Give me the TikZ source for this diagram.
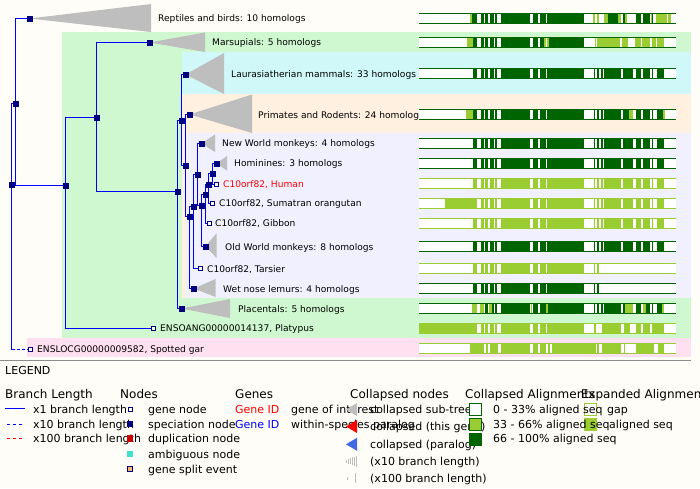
\documentclass[tikz,border=0pt]{standalone}
\usepackage{fontspec}
\setmainfont{DejaVu Sans}
\definecolor{bgc}{RGB}{254,253,247}
\definecolor{bandgreen}{RGB}{208,248,208}
\definecolor{bandcyan}{RGB}{208,248,248}
\definecolor{bandpeach}{RGB}{255,240,224}
\definecolor{bandlav}{RGB}{240,240,255}
\definecolor{bandpink}{RGB}{255,224,240}
\definecolor{navyc}{RGB}{0,0,128}
\definecolor{brc}{RGB}{0,0,255}
\definecolor{trig}{RGB}{190,190,190}
\definecolor{dkg}{RGB}{0,100,0}
\definecolor{ygc}{RGB}{154,205,50}
\definecolor{dupc}{RGB}{204,0,0}
\definecolor{ambc}{RGB}{64,224,208}
\definecolor{splitc}{RGB}{240,180,120}
\definecolor{parac}{RGB}{65,105,225}
\definecolor{rulec}{RGB}{140,140,140}
\pgfdeclarelayer{bands}
\pgfdeclarelayer{edges}
\pgfsetlayers{bands,edges,main}
\newcommand\alseg[3]{\fill[#3] (#1,-5.5) rectangle (#2,5.5);}
\newcommand\alpat[1]{\alseg{189}{201}{#1}\alseg{213}{221}{#1}\alseg{226}{233}{#1}\alseg{240}{251}{#1}\alseg{256}{262}{#1}\alseg{273}{360}{#1}\alseg{368}{383}{#1}\alseg{390}{407}{#1}\alseg{410}{522}{#1}\alseg{552}{556}{#1}\alseg{561}{566}{#1}\alseg{573}{579}{#1}\alseg{582}{633}{#1}\alseg{639}{668}{#1}\alseg{677}{693}{#1}\alseg{699}{719}{#1}\alseg{727}{729}{#1}\alseg{741}{762}{#1}}
\newcommand\alnbar[3]{%
 \begin{scope}[shift={(410,#1)}, x=0.333333pt]
 \fill[white] (27,-5.5) rectangle (797,5.5);
 #3
 \draw[#2, line width=1pt] (27,-5) -- (797,-5) (27,5) -- (797,5);
 \end{scope}}
\tikzset{
 spec/.style={rectangle, fill=navyc, minimum size=6pt, inner sep=0pt},
 genesq/.style={rectangle, draw=navyc, fill=white, line width=1pt, minimum size=4pt, inner sep=0pt},
 br/.style={draw=brc, line width=1pt},
 lbl/.style={anchor=west, inner sep=0pt, font=\fontsize{9.1}{10}\selectfont, text height=6.6pt, text depth=0pt},
 lgd/.style={anchor=west, inner sep=0pt, font=\fontsize{11}{13}\selectfont, text height=8pt, text depth=0pt},
 lgh/.style={anchor=west, inner sep=0pt, font=\fontsize{12}{14}\selectfont, text height=8.8pt, text depth=0pt},
 lsq/.style={rectangle, minimum size=12pt, inner sep=0pt, line width=1pt},
}
\begin{document}
\begin{tikzpicture}[x=1pt,y=-1pt]
\useasboundingbox (0,0) rectangle (700,488);
\begin{pgfonlayer}{bands}
 \fill[bgc] (0,0) rectangle (700,488);
 \fill[bandgreen] (62,32) rectangle (691,338);
 \fill[bandcyan] (182,52) rectangle (691,94);
 \fill[bandpeach] (182,94) rectangle (691,298);
 \fill[bandlav] (186,133) rectangle (691,298);
 \fill[bandpink] (27,338) rectangle (691,357);
 \draw[rulec, line width=1pt] (0,360.5) -- (691,360.5);
\end{pgfonlayer}

% internal nodes
\node[spec] (R) at (11.5,184.5) {};
\node[spec] (A) at (15.5,103.5) {};
\node[spec] (B) at (65.5,185.5) {};
\node[spec] (C) at (96.5,117.5) {};
\node[spec] (D) at (177.5,191.5) {};
\node[spec] (E) at (181.5,120.5) {};
\node[spec] (F) at (185.5,165.5) {};
\node[spec] (H) at (189.5,216.5) {};
\node[spec] (I) at (193.5,206.5) {};
\node[spec] (G) at (197.5,174.5) {};
\node[spec] (J) at (201.5,205.5) {};
\node[spec] (K) at (205.5,194.5) {};
\node[spec] (L) at (208.5,184.5) {};
\node[spec] (M) at (212.5,173.5) {};
% collapsed nodes
\node[spec] (rep) at (29.5,18.5) {};
\node[spec] (mar) at (149.5,42.5) {};
\node[spec] (lau) at (185.5,74.5) {};
\node[spec] (pri) at (189.5,114.5) {};
\node[spec] (nwm) at (201.5,143.5) {};
\node[spec] (hom) at (216.5,163.5) {};
\node[spec] (owm) at (205.5,246.5) {};
\node[spec] (lem) at (193.5,288.5) {};
\node[spec] (pla) at (181.5,308.5) {};
% genes
\node[genesq] (hum) at (216.5,184.5) {};
\node[genesq] (ora) at (212.5,203.5) {};
\node[genesq] (gib) at (209.5,223.5) {};
\node[genesq] (tar) at (200.5,268.5) {};
\node[genesq] (ptp) at (153.5,328.5) {};
\node[genesq] (gar) at (30.5,349.5) {};

\begin{pgfonlayer}{edges}
 \draw[br] (R.center) |- (A.center);
 \draw[br] (R.center) -- (R.center |- gar.center);
 \draw[br, dash pattern=on 3pt off 2pt] (R.center |- gar.center) -- (gar);
 \draw[br] (A.center) |- (rep.center);
 \draw[br] (A.center) |- (B.center);
 \draw[br] (B.center) |- (C.center);
 \draw[br] (B.center) |- (ptp);
 \draw[br] (C.center) |- (mar.center);
 \draw[br] (C.center) |- (D.center);
 \draw[br] (D.center) |- (E.center);
 \draw[br] (D.center) |- (pla.center);
 \draw[br] (E.center) |- (lau.center);
 \draw[br] (E.center) |- (F.center);
 \draw[br] (F.center) |- (pri.center);
 \draw[br] (F.center) |- (H.center);
 \draw[br] (H.center) |- (I.center);
 \draw[br] (H.center) |- (lem.center);
 \draw[br] (I.center) |- (G.center);
 \draw[br] (I.center) |- (tar);
 \draw[br] (G.center) |- (nwm.center);
 \draw[br] (G.center) |- (J.center);
 \draw[br] (J.center) |- (K.center);
 \draw[br] (J.center) |- (owm.center);
 \draw[br] (K.center) |- (L.center);
 \draw[br] (K.center) |- (gib);
 \draw[br] (L.center) |- (M.center);
 \draw[br] (L.center) |- (ora);
 \draw[br] (M.center) |- (hom.center);
 \draw[br] (M.center) |- (hum);
 % collapsed triangles
 \fill[trig] (rep.center) -- (151,4) -- (151,32) -- cycle;
 \fill[trig] (mar.center) -- (205,32.5) -- (205,52) -- cycle;
 \fill[trig] (lau.center) -- (224,53) -- (224,94) -- cycle;
 \fill[trig] (pri.center) -- (252,94.5) -- (252,133) -- cycle;
 \fill[trig] (nwm.center) -- (215,134.5) -- (215,152) -- cycle;
 \fill[trig] (hom.center) -- (227,156) -- (227,170.5) -- cycle;
 \fill[trig] (owm.center) -- (216.7,233) -- (216.7,258) -- cycle;
 \fill[trig] (lem.center) -- (215.7,279) -- (215.7,297) -- cycle;
 \fill[trig] (pla.center) -- (230,299) -- (230,318) -- cycle;
\end{pgfonlayer}

% labels
\node[lbl] (trep) at (158,18.5) {Reptiles and birds: 10 homologs};
\node[lbl] (tmar) at (212,42.5) {Marsupials: 5 homologs};
\node[lbl] (tlau) at (231,74) {Laurasiatherian mammals: 33 homologs};
\node[lbl] (tpri) at (258,115) {Primates and Rodents: 24 homologs};
\node[lbl] (tnwm) at (222,143.5) {New World monkeys: 4 homologs};
\node[lbl] (thom) at (234,163.5) {Hominines: 3 homologs};
\node[lbl, text=red] (thum) at (223,184) {C10orf82, Human};
\node[lbl] (tora) at (219,203.5) {C10orf82, Sumatran orangutan};
\node[lbl] (tgib) at (215,223) {C10orf82, Gibbon};
\node[lbl] (towm) at (225,246.7) {Old World monkeys: 8 homologs};
\node[lbl] (ttar) at (207,268.7) {C10orf82, Tarsier};
\node[lbl] (tlem) at (223,288.7) {Wet nose lemurs: 4 homologs};
\node[lbl] (tpla) at (238,308.7) {Placentals: 5 homologs};
\node[lbl] (tptp) at (160,328) {ENSOANG00000014137, Platypus};
\node[lbl] (tgar) at (37,349) {ENSLOCG00000009582, Spotted gar};

% alignments
\alnbar{18.5}{dkg}{\alpat{dkg}\alseg{180}{186}{ygc}\alseg{186}{189}{dkg}\alseg{522}{549}{white}\alseg{549}{556}{ygc}\alseg{561}{566}{ygc}\alseg{566}{582}{white}\alseg{582}{594}{ygc}\alseg{624}{633}{ygc}\alseg{645}{650}{ygc}\alseg{650}{677}{white}\alseg{724}{727}{ygc}\alseg{738}{770}{ygc}\alseg{773}{783}{ygc}}
\alnbar{42.5}{dkg}{\alpat{dkg}\alseg{171}{189}{ygc}\alseg{402}{407}{ygc}\alseg{410}{417}{ygc}\alseg{522}{556}{white}\alseg{556}{558}{ygc}\alseg{562}{566}{ygc}\alseg{566}{568}{white}\alseg{568}{630}{ygc}\alseg{630}{636}{white}\alseg{636}{654}{ygc}\alseg{654}{675}{white}\alseg{675}{693}{ygc}\alseg{693}{697}{white}\alseg{697}{720}{ygc}\alseg{720}{727}{white}\alseg{727}{737}{ygc}\alseg{737}{741}{white}\alseg{741}{762}{ygc}}
\alnbar{73.5}{dkg}{\alpat{dkg}}
\alnbar{114.5}{dkg}{\alpat{dkg}\alseg{168}{189}{ygc}\alseg{658}{668}{ygc}\alseg{760}{764}{ygc}}
\alnbar{143.5}{dkg}{\alpat{dkg}}
\alnbar{163.5}{dkg}{\alpat{dkg}}
\alnbar{183.5}{ygc}{\alpat{ygc}}
\alnbar{203.5}{ygc}{\alpat{ygc}\alseg{105}{189}{ygc}}
\alnbar{223.5}{ygc}{\alpat{ygc}}
\alnbar{246.5}{dkg}{\alpat{dkg}}
\alnbar{268.5}{ygc}{\alpat{ygc}\alseg{566}{797}{white}}
\alnbar{288.5}{dkg}{\alpat{dkg}\alseg{566}{797}{white}}
\alnbar{308.5}{dkg}{\alpat{dkg}\alseg{186}{201}{ygc}\alseg{209}{221}{ygc}\alseg{237}{247}{ygc}\alseg{362}{366}{ygc}\alseg{407}{413}{ygc}\alseg{645}{668}{ygc}\alseg{700}{708}{ygc}\alseg{756}{762}{ygc}}
\alnbar{328.5}{ygc}{\alpat{ygc}\alseg{27}{189}{ygc}\alseg{552}{557}{ygc}\alseg{557}{575}{white}\alseg{575}{633}{ygc}\alseg{633}{642}{white}\alseg{642}{660}{ygc}\alseg{660}{677}{white}\alseg{677}{693}{ygc}\alseg{693}{699}{white}\alseg{699}{720}{ygc}\alseg{720}{727}{white}\alseg{727}{762}{ygc}}
\alnbar{348.5}{ygc}{\alseg{180}{222}{ygc}\alseg{228}{234}{ygc}\alseg{240}{264}{ygc}\alseg{273}{360}{ygc}\alseg{368}{383}{ygc}\alseg{390}{407}{ygc}\alseg{413}{420}{ygc}\alseg{425}{557}{ygc}\alseg{562}{567}{ygc}\alseg{575}{633}{ygc}\alseg{642}{645}{ygc}\alseg{678}{732}{ygc}\alseg{744}{762}{ygc}}

% legend
\node[lgd] (legt) at (5,370.7) {LEGEND};
\node[lgh] (h1) at (5,393.7) {Branch Length};
\node[lgh] (h2) at (120,393.7) {Nodes};
\node[lgh] (h3) at (235,393.7) {Genes};
\node[lgh] (h4) at (350,393.7) {Collapsed nodes};
\node[lgh] (h5) at (465,393.7) {Collapsed Alignments};
\node[lgh] (h6) at (580.7,393.7) {Expanded Alignments};

% branch length
\coordinate (b1a) at (5,408.5); \coordinate (b1b) at (25,408.5);
\coordinate (b2a) at (7,424.5); \coordinate (b2b) at (25,424.5);
\coordinate (b3a) at (7,438.5); \coordinate (b3b) at (25,438.5);
\draw[br] (b1a) -- (b1b);
\draw[br, dash pattern=on 3pt off 3pt] (b2a) -- (b2b);
\draw[draw=red, line width=1pt, dash pattern=on 3pt off 3pt] (b3a) -- (b3b);
\node[lgd] (bt1) at (33,409) {x1 branch length};
\node[lgd] (bt2) at (33,424.3) {x10 branch length};
\node[lgd] (bt3) at (33,438.5) {x100 branch length};

% nodes column
\node[genesq] (n1) at (130.5,409.5) {};
\node[spec] (n2) at (130,424.3) {};
\node[rectangle, fill=dupc, minimum size=6.5pt, inner sep=0pt] (n3) at (130,438.5) {};
\node[rectangle, fill=ambc, minimum size=6pt, inner sep=0pt] (n4) at (130,454) {};
\node[rectangle, fill=splitc, draw=navyc, line width=1pt, minimum size=5pt, inner sep=0pt] (n5) at (130,469) {};
\node[lgd] (nt1) at (148,409) {gene node};
\node[lgd] (nt2) at (148,424.3) {speciation node};
\node[lgd] (nt3) at (148,438.5) {duplication node};
\node[lgd] (nt4) at (148,454) {ambiguous node};
\node[lgd] (nt5) at (148,469) {gene split event};

% genes column
\node[lgd, text=red] (g1) at (235,409) {Gene ID};
\node[lgd, text=brc] (g2) at (235,424.3) {Gene ID};
\node[lgd] (gt1) at (291,409) {gene of interest};
\node[lgd] (gt2) at (291,424.3) {within-species paralog};

% collapsed nodes column
\fill[trig] (346,409.5) -- (357,403) -- (357,416) -- cycle;
\fill[red] (346,426.5) -- (357,420) -- (357,433) -- cycle;
\fill[parac] (346,444.3) -- (357,437.8) -- (357,450.8) -- cycle;
\foreach \i/\h in {0/1.5,1/2.3,2/3.1,3/3.9,4/4.7,5/5.5} {
 \draw[trig, line width=0.8pt] (346.5+2*\i,461.3-\h) -- (346.5+2*\i,461.3+\h);
}
\draw[trig, line width=0.8pt] (347.5,476.8) -- (347.5,479.8);
\draw[trig, line width=0.8pt] (355,473) -- (355,483);
\node[lgd] (ct1) at (370,409.3) {collapsed sub-tree};
\node[lgd] (ct2) at (370,426.7) {collapsed (this gene)};
\node[lgd] (ct3) at (370,444.3) {collapsed (paralog)};
\node[lgd] (ct4) at (370,461.7) {(x10 branch length)};
\node[lgd] (ct5) at (370,478.3) {(x100 branch length)};

% expanded alignment squares (under the texts)
\node[lsq, draw=ygc, fill=white] (e1) at (590.5,409.5) {};
\node[lsq, draw=ygc, fill=ygc] (e2) at (590.5,424.5) {};

% collapsed alignments
\node[lsq, draw=dkg, fill=white] (s1) at (475.5,409.5) {};
\node[lsq, draw=dkg, fill=ygc] (s2) at (475.5,424.5) {};
\node[lsq, draw=dkg, fill=dkg] (s3) at (475.5,439.5) {};
\node[lgd] (st1) at (493,409.3) {0 - 33\% aligned seq};
\node[lgd] (st2) at (493,424.3) {33 - 66\% aligned seq};
\node[lgd] (st3) at (493,438.5) {66 - 100\% aligned seq};

% expanded alignment texts
\node[lgd] (et1) at (607,409.3) {gap};
\node[lgd] (et2) at (609,424.3) {aligned seq};
\end{tikzpicture}
\end{document}
